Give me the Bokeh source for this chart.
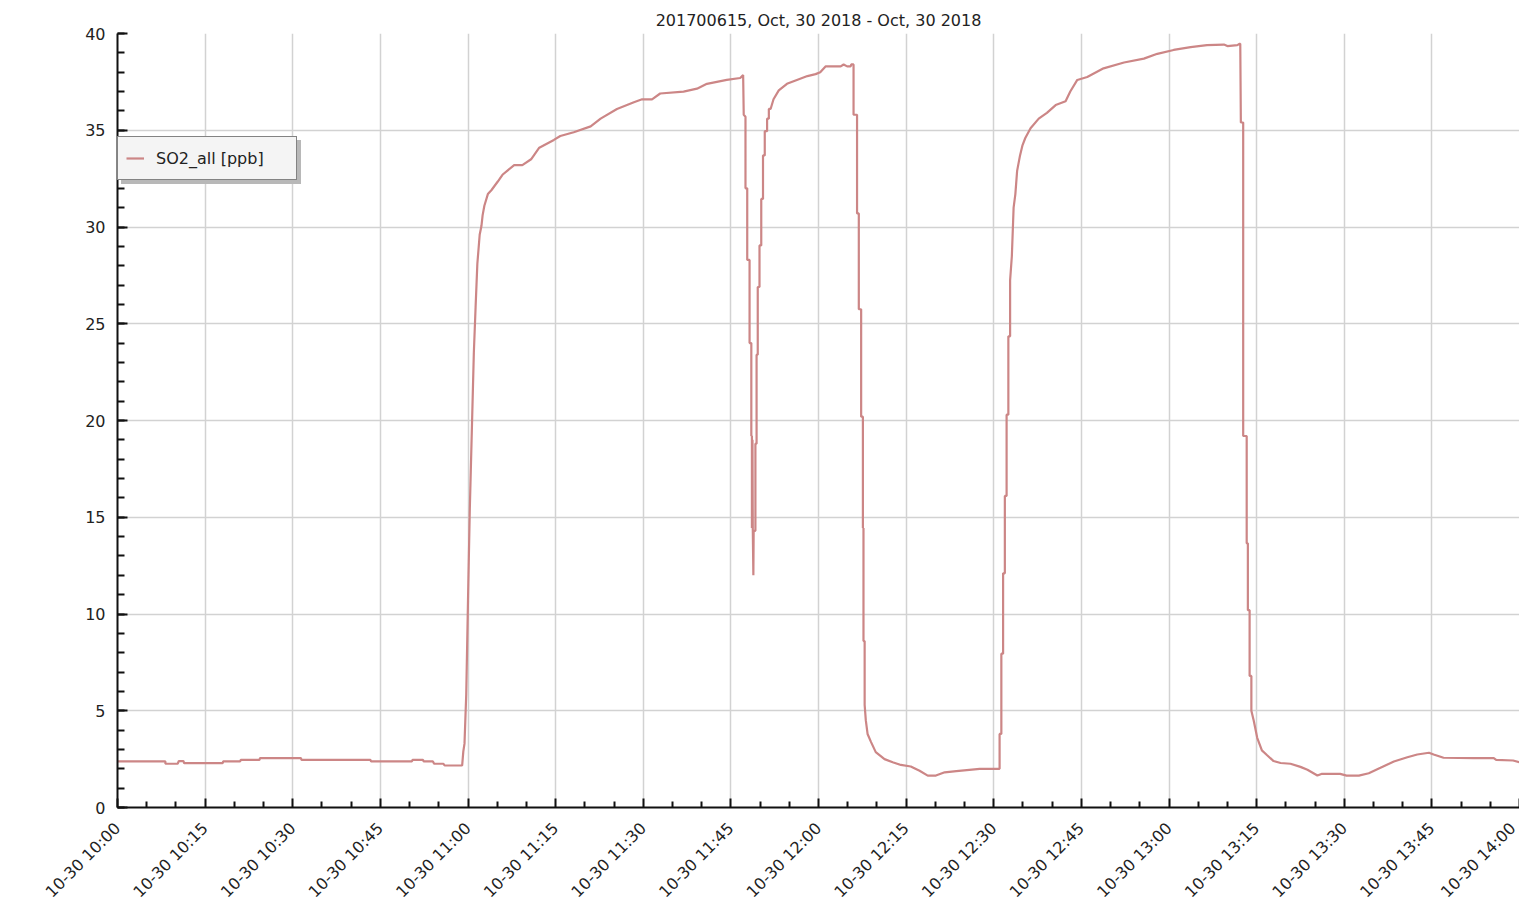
import pandas as pd
from bokeh.plotting import figure
from bokeh.models import (Range1d, FixedTicker, SingleIntervalTicker, DatetimeTickFormatter,
                          Legend, LegendItem, ColumnDataSource)
from bokeh.embed import file_html
from bokeh.resources import INLINE
import math

# ---------------- data ----------------
title_text = "201700615, Oct, 30 2018 - Oct, 30 2018"
series_name = "SO2_all [ppb]"
start_time = "2018-10-30 10:00"

# minutes after 10:00
minutes = [
    0, 8.2, 8.2, 10.3, 10.5, 11.3, 11.4, 18, 18.1, 21, 21.1, 24.3, 24.4, 31.4, 31.5, 43.3, 43.4, 50.4,
    50.5, 52.3, 52.4, 54, 54.2, 55.8, 56, 59,
    59.2, 59.4, 59.7, 60, 60.3, 60.7, 61.0, 61.3, 61.6, 62, 62.3, 62.5, 62.8, 63.4, 64, 65.1, 65.9,
    67.9, 69.3, 70.8, 72.2, 74.7, 75.8, 78.1, 81, 82.7, 85.5, 88.4, 89.8, 91.5, 92.9, 96.9, 99.2,
    100.9, 104.3, 106.6, 107.1,
    107.2, 107.5, 107.5, 107.8, 107.8, 108.2, 108.2, 108.5, 108.5, 108.6, 108.6, 108.7, 108.75,
    108.85, 108.9, 109.2, 109.2, 109.4, 109.4, 109.6, 109.6, 109.9, 109.9, 110.2, 110.2, 110.5,
    110.5, 110.8, 110.8, 111.2, 111.2, 111.5, 111.5, 111.8, 112.3, 113.2, 114.6, 116.3, 118.1,
    119.5, 120.3, 121.2, 123.8, 124.3, 124.9, 125.5, 125.6, 126.0,
    126.0, 126.6, 126.6, 126.9, 126.9, 127.3, 127.3, 127.6, 127.6, 127.7, 127.7, 127.9, 127.9,
    128.1, 128.4, 129, 129.8, 131.3, 132.7, 134.1, 135.8, 137.3, 138.7, 140.1, 141.6, 143.6,
    147.6, 151.0,
    151.0, 151.3, 151.3, 151.6, 151.6, 151.9, 151.9, 152.2, 152.2, 152.5, 152.5, 152.8, 152.8,
    153.1, 153.4, 153.7, 154, 154.5, 154.9, 155.4, 156.3, 157.7, 159.1, 160.6, 162.3, 163.1,
    164.3, 166, 168.8, 172.3, 175.7, 178, 180.8, 183.7, 186.5, 189.4, 190, 191.7, 192.1,
    192.2, 192.3, 192.7, 192.7, 193.3, 193.3, 193.5, 193.5, 193.8, 193.8, 194.1, 194.1, 194.5,
    195.1, 195.9, 196.8, 197.9, 199.1, 200.8, 202.5, 203.7, 205.4, 206.2, 209.3, 210.4, 212.5,
    214.2, 216.2, 218.5, 220.8, 222.5, 224.5, 225.3, 227, 232.2, 235.6, 236, 238.9, 240,
]

so2_ppb = [
    2.38, 2.38, 2.26, 2.26, 2.40, 2.40, 2.29, 2.29, 2.38, 2.38, 2.46, 2.46, 2.55, 2.55, 2.46, 2.46,
    2.38, 2.38, 2.46, 2.46, 2.38, 2.38, 2.26, 2.26, 2.17, 2.17,
    2.9, 3.3, 5.85, 10.7, 15.3, 20.0, 23.5, 25.85, 28.1, 29.6, 30.05, 30.6, 31.1, 31.7, 31.9,
    32.35, 32.7, 33.2, 33.2, 33.5, 34.1, 34.5, 34.7, 34.9, 35.2, 35.6, 36.1, 36.45, 36.6, 36.6,
    36.9, 37.0, 37.15, 37.4, 37.6, 37.7, 37.85,
    35.8, 35.7, 32.0, 32.0, 28.3, 28.3, 24.0, 24.0, 19.2, 19.2, 14.45, 19.0, 14.4,
    12.0, 14.3, 14.3, 18.8, 18.8, 23.4, 23.4, 26.9, 26.9, 29.05, 29.05, 31.45, 31.45,
    33.7, 33.7, 34.95, 34.95, 35.6, 35.6, 36.1, 36.1, 36.6, 37.06, 37.4, 37.6, 37.8,
    37.9, 38.0, 38.3, 38.3, 38.4, 38.3, 38.3, 38.4, 38.4,
    35.8, 35.8, 30.7, 30.7, 25.75, 25.75, 20.2, 20.2, 14.45, 14.45, 8.6, 8.6, 5.3,
    4.5, 3.8, 3.38, 2.86, 2.5, 2.34, 2.2, 2.12, 1.9, 1.65, 1.65, 1.82, 1.88,
    2.0, 2.0,
    3.8, 3.8, 7.95, 7.95, 12.1, 12.1, 16.1, 16.1, 20.3, 20.3, 24.35, 24.35, 27.25,
    28.5, 31.0, 31.7, 32.9, 33.7, 34.2, 34.6, 35.1, 35.6, 35.9, 36.3, 36.5, 37.0,
    37.6, 37.75, 38.2, 38.5, 38.7, 38.95, 39.15, 39.3, 39.4, 39.43, 39.35, 39.4, 39.47,
    39.47, 35.4, 35.4, 19.2, 19.2, 13.65, 13.65, 10.2, 10.2, 6.8, 6.8, 5.0, 4.5,
    3.6, 2.95, 2.7, 2.4, 2.3, 2.26, 2.1, 1.95, 1.65, 1.74, 1.74, 1.65, 1.65,
    1.77, 2.05, 2.38, 2.6, 2.74, 2.83, 2.74, 2.57, 2.55, 2.55, 2.46, 2.43, 2.34,
]

tick_labels = ["10-30 10:00", "10-30 10:15", "10-30 10:30", "10-30 10:45", "10-30 11:00",
               "10-30 11:15", "10-30 11:30", "10-30 11:45", "10-30 12:00", "10-30 12:15",
               "10-30 12:30", "10-30 12:45", "10-30 13:00", "10-30 13:15", "10-30 13:30",
               "10-30 13:45", "10-30 14:00"]
y_ticks = [0, 5, 10, 15, 20, 25, 30, 35, 40]

# ---------------- build ----------------
base = pd.Timestamp(start_time)
times = [base + pd.Timedelta(minutes=m) for m in minutes]
src = ColumnDataSource(data=dict(t=times, v=so2_ppb))

def to_ms(ts):
    return ts.value / 1e6

major_ms = [to_ms(pd.Timestamp("2018-" + lab)) for lab in tick_labels]
minor_ms = []
for a, b in zip(major_ms[:-1], major_ms[1:]):
    step = (b - a) / 3
    minor_ms += [a + step, a + 2 * step]

FONT = "DejaVu Sans"
TXT = "#222222"

p = figure(width=1519, height=920, x_axis_type="datetime",
           x_range=Range1d(major_ms[0], major_ms[-1]),
           y_range=Range1d(y_ticks[0], y_ticks[-1]),
           output_backend="svg", toolbar_location=None,
           min_border_left=117, min_border_right=0, min_border_top=33, min_border_bottom=113)

p.title.text = title_text
p.title.align = "center"
p.title.text_font = FONT
p.title.text_font_size = "16px"
p.title.text_font_style = "normal"
p.title.text_color = TXT
p.title.standoff = 8

p.outline_line_color = None
p.background_fill_color = "white"
p.border_fill_color = "white"

# grid
for g in (p.xgrid, p.ygrid):
    g.grid_line_color = "#d2d2d2"
    g.grid_line_width = 1.5

# axes
xa = p.xaxis[0]
xa.ticker = FixedTicker(ticks=major_ms, minor_ticks=minor_ms)
fmt = "%m-%d %H:%M"
xa.formatter = DatetimeTickFormatter(minutes=fmt, hourmin=fmt, hours=fmt, minsec=fmt,
                                     seconds=fmt, days=fmt)
xa.major_label_orientation = math.pi / 4
ya = p.yaxis[0]
ya.ticker = SingleIntervalTicker(interval=5, num_minor_ticks=5)

for ax in (xa, ya):
    ax.axis_line_color = "#111111"
    ax.axis_line_width = 2
    ax.major_tick_line_color = "#111111"
    ax.minor_tick_line_color = "#111111"
    ax.major_tick_line_width = 2
    ax.minor_tick_line_width = 2
    ax.major_tick_out = 0
    ax.minor_tick_out = 0
    ax.major_label_text_font = FONT
    ax.major_label_text_font_size = "16px"
    ax.major_label_text_color = TXT
xa.major_tick_in = 9
xa.minor_tick_in = 6
xa.major_label_standoff = 18
ya.major_tick_in = 10
ya.minor_tick_in = 7
ya.major_label_standoff = 12

line_color = "#cc8686"
r = p.line("t", "v", source=src, line_color=line_color, line_width=2.2)

# shadow box behind the legend: a legend with a blank label on an empty, invisible renderer
shadow_r = p.line(x=[], y=[], line_alpha=0)
shadow = Legend(items=[LegendItem(label=" ", renderers=[shadow_r])],
                location=(4, 623), orientation="vertical")
shadow.background_fill_color = "#b8b8b8"
shadow.background_fill_alpha = 1.0
shadow.border_line_color = "#b8b8b8"
shadow.border_line_width = 1.5
shadow.label_text_alpha = 0

legend = Legend(items=[LegendItem(label=series_name, renderers=[r])],
                location=(0, 627), orientation="vertical")
legend.background_fill_color = "#f4f4f4"
legend.background_fill_alpha = 1.0
legend.border_line_color = "#111111"
legend.border_line_width = 1.5
legend.label_text_color = TXT

for lg in (shadow, legend):
    lg.padding = 8
    lg.margin = 0
    lg.spacing = 0
    lg.glyph_width = 18
    lg.glyph_height = 20
    lg.label_height = 26
    lg.label_width = 132
    lg.label_standoff = 12
    lg.label_text_font = FONT
    lg.label_text_font_size = "16px"

p.add_layout(shadow, "center")
p.add_layout(legend, "center")

open("out.html", "w").write(file_html(p, INLINE))
